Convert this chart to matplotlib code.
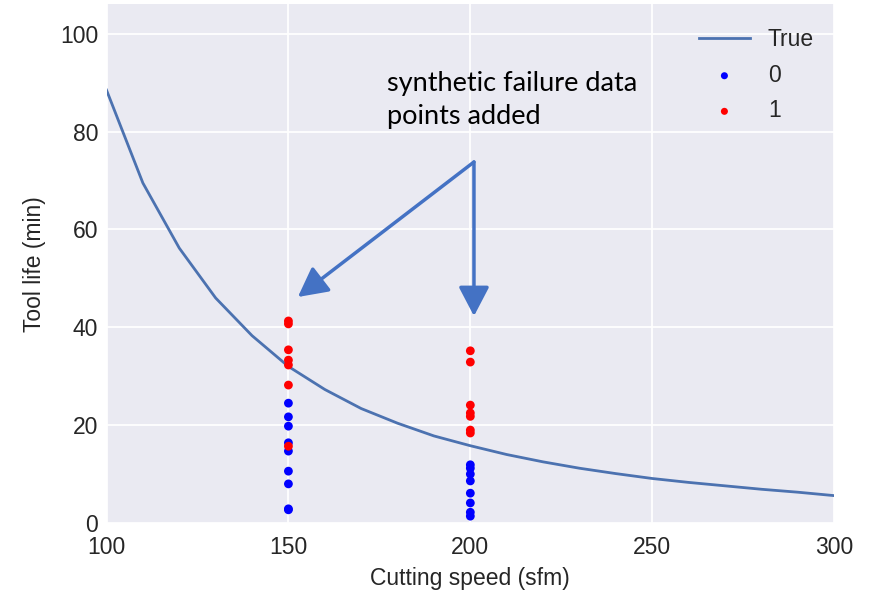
import matplotlib
matplotlib.use("Agg")
import matplotlib.pyplot as plt

# Taylor tool-life curve (cutting speed vs. tool life)
speed = [100, 110, 120, 130, 140, 150, 160, 170, 180, 190, 200,
         210, 220, 230, 240, 250, 260, 270, 280, 290, 300]
life = [88.5, 69.5, 56.2, 46.0, 38.3, 32.0, 27.3, 23.4, 20.4, 17.8, 15.8,
        14.0, 12.5, 11.2, 10.1, 9.1, 8.3, 7.6, 6.9, 6.3, 5.6]

# observations without failure (0) and with failure (1)
speed_0 = [150] * 9 + [200] * 8
life_0 = [24.5, 21.7, 19.8, 16.4, 14.7, 10.6, 8.0, 2.7, 2.9,
          11.9, 11.2, 10.0, 8.6, 6.1, 4.1, 2.2, 1.4]
speed_1 = [150] * 7 + [200] * 7
life_1 = [41.3, 40.7, 35.4, 33.3, 32.3, 28.2, 15.7,
          35.2, 32.9, 24.1, 22.5, 21.8, 19.0, 18.4]

x_ticks = [100, 150, 200, 250, 300]
y_ticks = [0, 20, 40, 60, 80, 100]

note_text = "synthetic failure data\npoints added"
note_xy = (177.0, 92.3)
arrow_start = (201.0, 73.8)
arrow_tips = [(152.6, 46.2), (201.0, 42.3)]

plt.rcParams["font.family"] = ["Liberation Sans", "DejaVu Sans"]

fig = plt.figure(figsize=(8.73, 5.94), dpi=100)
ax = fig.add_axes([0.122, 0.1195, 0.8335, 0.873])
ax.set_facecolor("#EAEAF2")
for s in ax.spines.values():
    s.set_visible(False)
ax.grid(True, color="white", linewidth=1.3)
ax.set_axisbelow(True)

ax.plot(speed, life, color="#4C72B0", linewidth=2.0, label="True", zorder=2)
ax.scatter(speed_0, life_0, s=40, color=(0, 0, 1), edgecolors="none",
           label="0", zorder=3)
ax.scatter(speed_1, life_1, s=40, color=(1, 0, 0), edgecolors="none",
           label="1", zorder=4)

ax.set_xlim(100, 300)
ax.set_ylim(0, 106)
ax.set_xticks(x_ticks)
ax.set_yticks(y_ticks)
ax.tick_params(axis="both", length=0, labelsize=16.5, labelcolor="#262626")
ax.tick_params(axis="x", pad=9)
ax.tick_params(axis="y", pad=6)
ax.set_xlabel("Cutting speed (sfm)", fontsize=16.5, color="#262626", labelpad=6)
ax.set_ylabel("Tool life (min)", fontsize=16.5, color="#262626", labelpad=10)

leg = ax.legend(loc="upper right", frameon=False, fontsize=16.5,
                markerscale=0.8, handlelength=2.2, labelspacing=0.55,
                borderaxespad=0.0, bbox_to_anchor=(0.985, 0.972))
for t in leg.get_texts():
    t.set_color("#262626")

ax.text(note_xy[0], note_xy[1], note_text, fontsize=19.5, family="Lato",
        va="top", ha="left", color="black", linespacing=1.36)

for tip in arrow_tips:
    ax.annotate("", xy=tip, xytext=arrow_start,
                arrowprops=dict(arrowstyle="-|>,head_length=0.9,head_width=0.47",
                                mutation_scale=20, color="#4472C4", lw=2.5,
                                shrinkA=0, shrinkB=0))

fig.savefig("out.png", dpi=100)
